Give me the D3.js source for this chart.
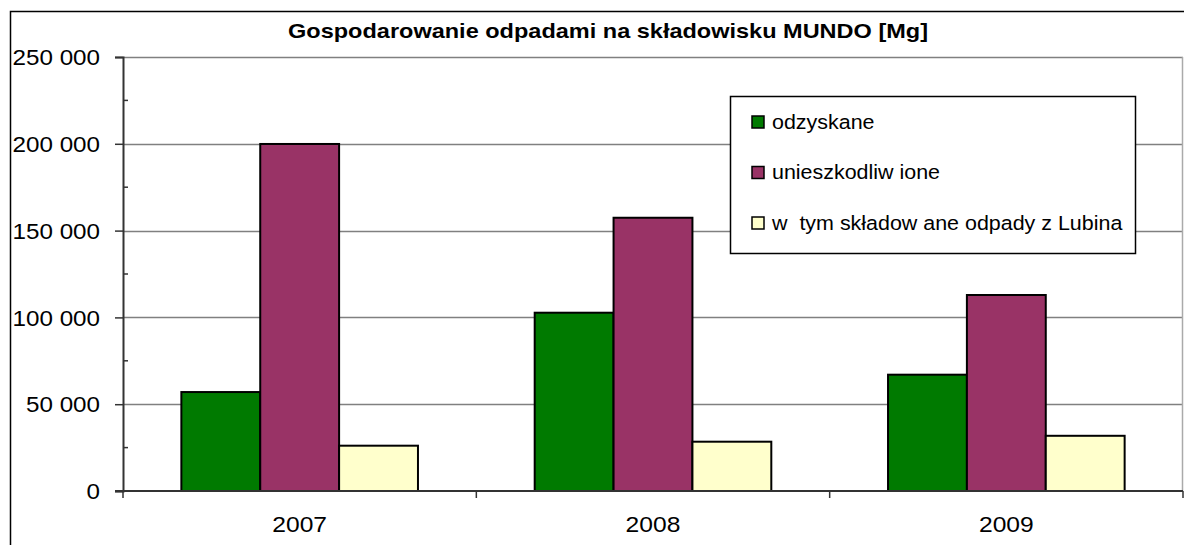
<!DOCTYPE html>
<html lang="pl">
<head>
<meta charset="UTF-8">
<title>Gospodarowanie odpadami na składowisku MUNDO</title>
<script src="https://d3js.org/d3.v7.min.js"></script>
<style>
  body { margin: 0; background: #fff; }
  svg { display: block; font-family: "Liberation Sans", Arial, sans-serif; }
  .title { font-weight: bold; font-size: 21px; }
  .axis text { font-size: 22px; fill: #000; }
  .legend text { font-size: 19.5px; fill: #000; white-space: pre; }
</style>
</head>
<body>
<svg id="chart" width="1184" height="545"></svg>
<script>
// dane [Mg]
const years = ["2007", "2008", "2009"];
const seriesNames = ["odzyskane", "unieszkodliw ione", "w  tym składow ane odpady z Lubina"];
const odzyskane = [57000, 102700, 67000];
const unieszkodliwione = [199900, 157400, 112900];
const lubin = [26100, 28400, 31800];
const yTicks = [0, 50000, 100000, 150000, 200000, 250000];
const colors = ["#007a00", "#993366", "#ffffcc"];

const svg = d3.select("#chart");
const margin = { left: 123, top: 57, right: 1, bottom: 54 };
const W = 1184, H = 545;
const stretch = 1.1; // oryginał jest lekko rozciągnięty w poziomie

// ramka wykresu
svg.append("rect")
  .attr("x", 10.5).attr("y", 11.5)
  .attr("width", 1200).attr("height", 600)
  .attr("fill", "none").attr("stroke", "#000").attr("stroke-width", 1.5);

svg.append("text")
  .attr("class", "title")
  .attr("transform", `translate(608,38) scale(1.12,1)`)
  .attr("text-anchor", "middle")
  .text("Gospodarowanie odpadami na składowisku MUNDO [Mg]");

const x0 = d3.scaleBand()
  .domain(years)
  .range([margin.left, W - margin.right])
  .paddingInner(0).paddingOuter(0);

const x1 = d3.scaleBand()
  .domain(d3.range(3))
  .range([0, x0.bandwidth()])
  .paddingInner(0)
  .paddingOuter(0.74);

const y = d3.scaleLinear()
  .domain([0, 250000])
  .range([H - margin.bottom, margin.top]);

// linie siatki
svg.append("g")
  .selectAll("line")
  .data(yTicks.slice(1))
  .join("line")
  .attr("x1", margin.left).attr("x2", W - margin.right)
  .attr("y1", d => Math.round(y(d)) + 0.5).attr("y2", d => Math.round(y(d)) + 0.5)
  .attr("stroke", "#808080").attr("stroke-width", 1.5);

svg.append("line")
  .attr("x1", W - margin.right - 0.5).attr("x2", W - margin.right - 0.5)
  .attr("y1", margin.top).attr("y2", H - margin.bottom)
  .attr("stroke", "#aaa").attr("stroke-width", 1.5);

// słupki
const series = [odzyskane, unieszkodliwione, lubin];
const groups = svg.append("g")
  .selectAll("g")
  .data(years)
  .join("g")
  .attr("transform", d => `translate(${x0(d)},0)`);

groups.selectAll("rect")
  .data((d, i) => series.map((s, k) => ({ k, v: s[i] })))
  .join("rect")
  .attr("x", d => x1(d.k))
  .attr("y", d => y(d.v))
  .attr("width", x1.bandwidth())
  .attr("height", d => y(0) - y(d.v))
  .attr("fill", d => colors[d.k])
  .attr("stroke", "#000")
  .attr("stroke-width", 2);

// oś Y
const yAxis = svg.append("g")
  .attr("class", "axis")
  .attr("transform", `translate(${margin.left},0)`)
  .call(d3.axisLeft(y)
    .tickValues(yTicks)
    .tickSize(8)
    .tickPadding(14)
    .tickFormat(d => d3.format(",")(d).replace(/,/g, " ")));
yAxis.select(".domain").attr("stroke", "#333").attr("stroke-width", 2);
yAxis.selectAll(".tick line").attr("stroke", "#333").attr("stroke-width", 1.5);
yAxis.selectAll(".tick text")
  .attr("dy", "0.35em")
  .attr("transform", `translate(-23,0) scale(${stretch},1)`)
  .attr("x", 0);

// drobne znaczniki co 25 000
svg.append("g")
  .selectAll("line")
  .data(d3.range(25000, 250000, 50000))
  .join("line")
  .attr("x1", margin.left).attr("x2", margin.left + 5)
  .attr("y1", d => y(d)).attr("y2", d => y(d))
  .attr("stroke", "#333").attr("stroke-width", 1.5);

// oś X
const xAxis = svg.append("g")
  .attr("class", "axis")
  .attr("transform", `translate(0,${y(0)})`)
  .call(d3.axisBottom(x0).tickSize(0).tickPadding(25));
xAxis.select(".domain").remove();
xAxis.selectAll(".tick text")
  .attr("transform", `scale(1.12,1)`);
svg.append("line")
  .attr("x1", margin.left - 8).attr("x2", W - margin.right)
  .attr("y1", y(0)).attr("y2", y(0))
  .attr("stroke", "#333").attr("stroke-width", 2);
svg.append("g")
  .selectAll("line")
  .data(years.concat(["end"]))
  .join("line")
  .attr("x1", (d, i) => i < years.length ? x0(d) : x0(years[years.length - 1]) + x0.bandwidth())
  .attr("x2", (d, i) => i < years.length ? x0(d) : x0(years[years.length - 1]) + x0.bandwidth())
  .attr("y1", y(0)).attr("y2", y(0) + 7)
  .attr("stroke", "#333").attr("stroke-width", 1.5);

// legenda
const legend = svg.append("g").attr("class", "legend");
legend.append("rect")
  .attr("x", 730.5).attr("y", 96.5)
  .attr("width", 405).attr("height", 157)
  .attr("fill", "#fff").attr("stroke", "#000").attr("stroke-width", 1.5);
const items = legend.selectAll("g.item")
  .data(seriesNames)
  .join("g")
  .attr("class", "item")
  .attr("transform", (d, i) => `translate(752,${122 + i * 50.5})`);
items.append("rect")
  .attr("x", 0).attr("y", -6)
  .attr("width", 12).attr("height", 12)
  .attr("fill", (d, i) => colors[i])
  .attr("stroke", "#000").attr("stroke-width", 1.5);
items.append("text")
  .attr("transform", `translate(20,0) scale(${stretch},1)`)
  .attr("dy", "0.35em")
  .text(d => d);
</script>
</body>
</html>
